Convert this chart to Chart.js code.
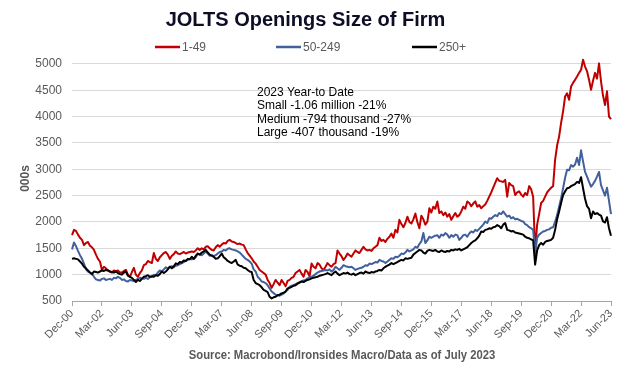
<!DOCTYPE html>
<html>
<head>
<meta charset="utf-8">
<title>JOLTS Openings Size of Firm</title>
<script src="https://cdn.jsdelivr.net/npm/chart.js@4.4.0/dist/chart.umd.min.js"></script>
<style>
  html, body { margin: 0; padding: 0; background: #ffffff; }
  #wrap { width: 628px; height: 367px; }
</style>
</head>
<body>
<div id="wrap"><canvas id="joltsChart" width="628" height="367"></canvas></div>
<script>
// Job openings by establishment size, thousands, monthly Dec-00 .. Jun-23
const monthNames = ['Jan', 'Feb', 'Mar', 'Apr', 'May', 'Jun', 'Jul', 'Aug', 'Sep', 'Oct', 'Nov', 'Dec'];
const months = ['Dec-00'];
for (let y = 2001; y <= 2023; y++) {
    const last = y === 2023 ? 6 : 12;
    for (let m = 0; m < last; m++) {
        months.push(monthNames[m] + '-' + String(y).slice(2));
    }
}

const yTicks = [500, 1000, 1500, 2000, 2500, 3000, 3500, 4000, 4500, 5000];

const small = [
    1750,
    1850, 1830, 1760, 1700, 1660, 1560, 1600, 1620, 1550, 1520, 1470, 1380, // 2001
    1300, 1250, 1090, 1150, 1120, 1080, 1060, 1040, 1080, 1060, 1080, 1040, // 2002
    1040, 1070, 1090, 1000, 960, 1050, 1130, 1000, 960, 1030, 1080, 1180,   // 2003
    1200, 1260, 1240, 1220, 1410, 1300, 1260, 1330, 1370, 1410, 1430, 1380, // 2004
    1300, 1360, 1390, 1440, 1400, 1390, 1410, 1430, 1400, 1420, 1430, 1440, // 2005
    1430, 1460, 1500, 1470, 1500, 1480, 1530, 1540, 1500, 1470, 1460, 1520, // 2006
    1560, 1530, 1570, 1600, 1590, 1640, 1660, 1630, 1620, 1600, 1580, 1590, // 2007
    1570, 1560, 1480, 1410, 1360, 1310, 1250, 1210, 1150, 1090, 1060, 1030, // 2008
    1000, 900, 840, 750, 820, 900, 850, 800, 900, 840, 780, 880,             // 2009
    900, 940, 960, 1030, 1060, 1090, 1020, 960, 1090, 1050, 970, 1210,       // 2010
    1150, 1120, 1220, 1190, 1120, 1090, 1150, 1220, 1180, 1150, 1200, 1220, // 2011
    1460, 1400, 1350, 1280, 1330, 1400, 1370, 1340, 1400, 1460, 1430, 1410, // 2012
    1470, 1530, 1480, 1460, 1470, 1450, 1500, 1530, 1560, 1700, 1640, 1660, // 2013
    1620, 1680, 1720, 1780, 1700, 1850, 1800, 2040, 1960, 1900, 1980, 2100, // 2014
    2000, 1970, 2050, 2160, 2000, 1880, 2120, 2050, 1950, 2000, 2260, 2180, // 2015
    2290, 2250, 2390, 2170, 2200, 2130, 2180, 2100, 2150, 2040, 2110, 2170, // 2016
    2100, 2130, 2200, 2290, 2250, 2390, 2360, 2300, 2350, 2390, 2290, 2320, // 2017
    2260, 2300, 2330, 2400, 2480, 2560, 2650, 2740, 2830, 2780, 2770, 2760, // 2018
    2800, 2480, 2740, 2700, 2680, 2510, 2560, 2580, 2520, 2480, 2550, 2510, // 2019
    2680, 2620, 2480, 1450, 1950, 2150, 2360, 2400, 2480, 2560, 2610, 2650, // 2020
    2680, 3180, 3450, 3620, 3880, 4100, 4380, 4440, 4320, 4570, 4640, 4700, // 2021
    4760, 4830, 4890, 5080, 4950, 4860, 4700, 4510, 4680, 4830, 4720, 5010, // 2022
    4670, 4400, 4220, 4480, 4000, 3950                                      // 2023
];

const medium = [
    1480,
    1610, 1540, 1450, 1370, 1300, 1210, 1100, 1060, 1040, 1020, 960, 910,   // 2001
    900, 890, 920, 930, 900, 910, 920, 900, 940, 930, 960, 940,             // 2002
    900, 910, 880, 870, 900, 890, 880, 900, 920, 940, 930, 920,             // 2003
    940, 920, 950, 960, 1000, 990, 1040, 1080, 1060, 1100, 1140, 1120,      // 2004
    1150, 1160, 1140, 1170, 1180, 1200, 1220, 1240, 1260, 1280, 1300, 1290, // 2005
    1300, 1330, 1400, 1380, 1370, 1400, 1440, 1400, 1360, 1370, 1350, 1370, // 2006
    1400, 1430, 1440, 1470, 1460, 1490, 1500, 1480, 1470, 1460, 1440, 1420, // 2007
    1380, 1340, 1300, 1280, 1250, 1210, 1100, 1060, 960, 920, 870, 860,     // 2008
    840, 800, 740, 680, 650, 620, 610, 600, 620, 640, 680, 710,             // 2009
    770, 790, 800, 820, 840, 860, 870, 890, 900, 930, 950, 960,             // 2010
    980, 1010, 1040, 1060, 1070, 1080, 1090, 1080, 1100, 1060, 1090, 1150,  // 2011
    1120, 1090, 1130, 1180, 1160, 1150, 1140, 1150, 1120, 1090, 1110, 1120, // 2012
    1130, 1150, 1180, 1170, 1210, 1200, 1220, 1240, 1230, 1280, 1260, 1250, // 2013
    1220, 1250, 1280, 1310, 1300, 1340, 1330, 1360, 1400, 1390, 1420, 1470, // 2014
    1440, 1460, 1480, 1530, 1510, 1580, 1630, 1790, 1600, 1650, 1720, 1700, // 2015
    1720, 1740, 1750, 1700, 1760, 1740, 1790, 1760, 1700, 1750, 1720, 1760, // 2016
    1750, 1660, 1700, 1750, 1760, 1720, 1780, 1820, 1800, 1850, 1830, 1870, // 2017
    1910, 1950, 2010, 1980, 2070, 2060, 2100, 2130, 2110, 2170, 2150, 2200, // 2018
    2150, 2100, 2120, 2070, 2090, 2050, 2060, 2040, 2020, 2010, 1960, 1940, // 2019
    1900, 1880, 1850, 1390, 1700, 1760, 1790, 1820, 1830, 1850, 1860, 1890, // 2020
    1900, 2000, 2130, 2290, 2450, 2640, 2840, 2990, 2980, 3080, 3050, 3090, // 2021
    3220, 3080, 3360, 3150, 2950, 2860, 2760, 2670, 2720, 2780, 2860, 2950, // 2022
    2700, 2600, 2500, 2650, 2400, 2150                                      // 2023
];

const large = [
    1300,
    1310, 1300, 1290, 1250, 1210, 1150, 1120, 1080, 1040, 1010, 1060, 1050, // 2001
    1040, 1060, 1080, 1070, 1090, 1080, 1060, 1050, 1040, 1060, 1030, 1010, // 2002
    1000, 1040, 1060, 980, 960, 940, 900, 860, 900, 880, 920, 960,          // 2003
    970, 990, 960, 970, 960, 990, 980, 1010, 1060, 1030, 1060, 1100,        // 2004
    1150, 1120, 1160, 1215, 1200, 1240, 1230, 1270, 1260, 1300, 1290, 1340, // 2005
    1300, 1360, 1400, 1380, 1420, 1440, 1470, 1420, 1380, 1360, 1340, 1300, // 2006
    1310, 1350, 1400, 1330, 1300, 1260, 1240, 1220, 1250, 1280, 1190, 1170, // 2007
    1160, 1130, 1120, 1090, 1060, 1050, 900, 840, 820, 800, 760, 710,       // 2008
    690, 670, 580, 550, 570, 580, 610, 620, 645, 660, 680, 740,             // 2009
    750, 770, 790, 800, 830, 850, 870, 860, 880, 900, 910, 930,             // 2010
    940, 950, 960, 980, 990, 1000, 1010, 1030, 1010, 990, 1030, 1060,       // 2011
    1020, 990, 1010, 1030, 1020, 1040, 1010, 1000, 1020, 990, 1010, 1030,   // 2012
    1040, 1020, 1060, 1040, 1030, 1050, 1040, 1060, 1070, 1090, 1080, 1120, // 2013
    1150, 1170, 1190, 1220, 1200, 1220, 1240, 1260, 1280, 1270, 1310, 1300, // 2014
    1310, 1320, 1380, 1410, 1440, 1470, 1460, 1420, 1400, 1450, 1470, 1460, // 2015
    1450, 1470, 1440, 1430, 1460, 1440, 1430, 1450, 1440, 1470, 1460, 1480, // 2016
    1470, 1490, 1460, 1480, 1500, 1520, 1560, 1600, 1630, 1650, 1690, 1740, // 2017
    1820, 1810, 1850, 1860, 1880, 1870, 1900, 1910, 1940, 1920, 1880, 1950, // 2018
    1980, 1850, 1840, 1820, 1830, 1800, 1790, 1780, 1770, 1760, 1720, 1700, // 2019
    1690, 1670, 1650, 1190, 1460, 1560, 1600, 1570, 1620, 1640, 1650, 1660, // 2020
    1700, 1850, 2050, 2200, 2360, 2510, 2580, 2640, 2650, 2680, 2700, 2720, // 2021
    2760, 2740, 2850, 2640, 2440, 2300, 2250, 2070, 2200, 2150, 2170, 2140, // 2022
    2120, 2010, 1990, 2090, 1880, 1740                                      // 2023
];

const seriesNames = ['1-49', '50-249', '250+'];
const seriesColors = ['#c00000', '#41609c', '#000000'];
const ytdNotes = [
    '2023 Year-to Date',
    'Small -1.06 million -21%',
    'Medium -794 thousand -27%',
    'Large -407 thousand -19%'
];
const sourceText = 'Source: Macrobond/Ironsides Macro/Data as of July 2023';

const FONT = "'Liberation Sans', Arial, sans-serif";
const GREY = '#595959';

// legend row, the YTD note and the source line are drawn by hand
const extras = {
    id: 'extras',
    afterDraw(chart) {
        const ctx = chart.ctx;
        ctx.save();

        const legendX = [155, 276, 412];
        ctx.font = '12px ' + FONT;
        ctx.textBaseline = 'middle';
        chart.data.datasets.forEach((ds, i) => {
            ctx.strokeStyle = ds.borderColor;
            ctx.lineWidth = 2.5;
            ctx.beginPath();
            ctx.moveTo(legendX[i], 47);
            ctx.lineTo(legendX[i] + 25, 47);
            ctx.stroke();
            ctx.fillStyle = GREY;
            ctx.textAlign = 'left';
            ctx.fillText(ds.label, legendX[i] + 27, 47.5);
        });

        ctx.fillStyle = '#000000';
        ctx.font = '12px ' + FONT;
        ytdNotes.forEach((line, i) => {
            ctx.fillText(line, 257, 92.5 + i * 13.4);
        });

        // the source line uses a condensed face; squeeze the regular one
        ctx.fillStyle = GREY;
        ctx.font = 'bold 12px ' + FONT;
        ctx.textAlign = 'center';
        ctx.translate(342, 356);
        ctx.scale(0.94, 1);
        ctx.fillText(sourceText, 0, 0);
        ctx.restore();
    }
};

new Chart(document.getElementById('joltsChart'), {
    type: 'line',
    data: {
        labels: months,
        datasets: [
            { label: seriesNames[0], data: small, borderColor: seriesColors[0], backgroundColor: seriesColors[0], order: 3 },
            { label: seriesNames[1], data: medium, borderColor: seriesColors[1], backgroundColor: seriesColors[1], order: 2 },
            { label: seriesNames[2], data: large, borderColor: seriesColors[2], backgroundColor: seriesColors[2], order: 1 }
        ]
    },
    options: {
        responsive: false,
        animation: false,
        events: [],
        elements: {
            line: { borderWidth: 2, tension: 0, borderJoinStyle: 'round' },
            point: { radius: 0 }
        },
        layout: { padding: { left: 0, right: 17, top: 0, bottom: 0 } },
        plugins: {
            title: {
                display: true,
                text: 'JOLTS Openings Size of Firm',
                color: '#0d0d26',
                font: { family: FONT, size: 20, weight: 'bold' },
                padding: { top: 8, bottom: 24 }
            },
            legend: { display: false },
            tooltip: { enabled: false }
        },
        scales: {
            x: {
                grid: { drawOnChartArea: false, drawTicks: true, tickLength: 5, color: '#a6a6a6' },
                border: { color: '#a6a6a6' },
                ticks: {
                    autoSkip: false,
                    minRotation: 45,
                    maxRotation: 45,
                    padding: 1,
                    color: GREY,
                    font: { family: FONT, size: 11 },
                    callback: function (value, index) {
                        return index % 15 === 0 ? this.getLabelForValue(value) : null;
                    }
                },
                afterFit: (scale) => { scale.height = 66; }
            },
            y: {
                min: 500,
                max: 5150,
                grid: { color: '#d9d9d9', drawTicks: false },
                border: { display: false },
                afterBuildTicks: (scale) => {
                    scale.ticks = yTicks.map((v) => ({ value: v }));
                },
                ticks: {
                    padding: 10,
                    color: GREY,
                    font: { family: FONT, size: 12 },
                    callback: (value) => String(value)
                },
                title: {
                    display: true,
                    text: '000s',
                    color: GREY,
                    font: { family: FONT, size: 12, weight: 'bold' },
                    padding: { top: 18, bottom: 0 }
                },
                afterFit: (scale) => { scale.width = 72; }
            }
        }
    },
    plugins: [extras]
});
</script>
</body>
</html>
